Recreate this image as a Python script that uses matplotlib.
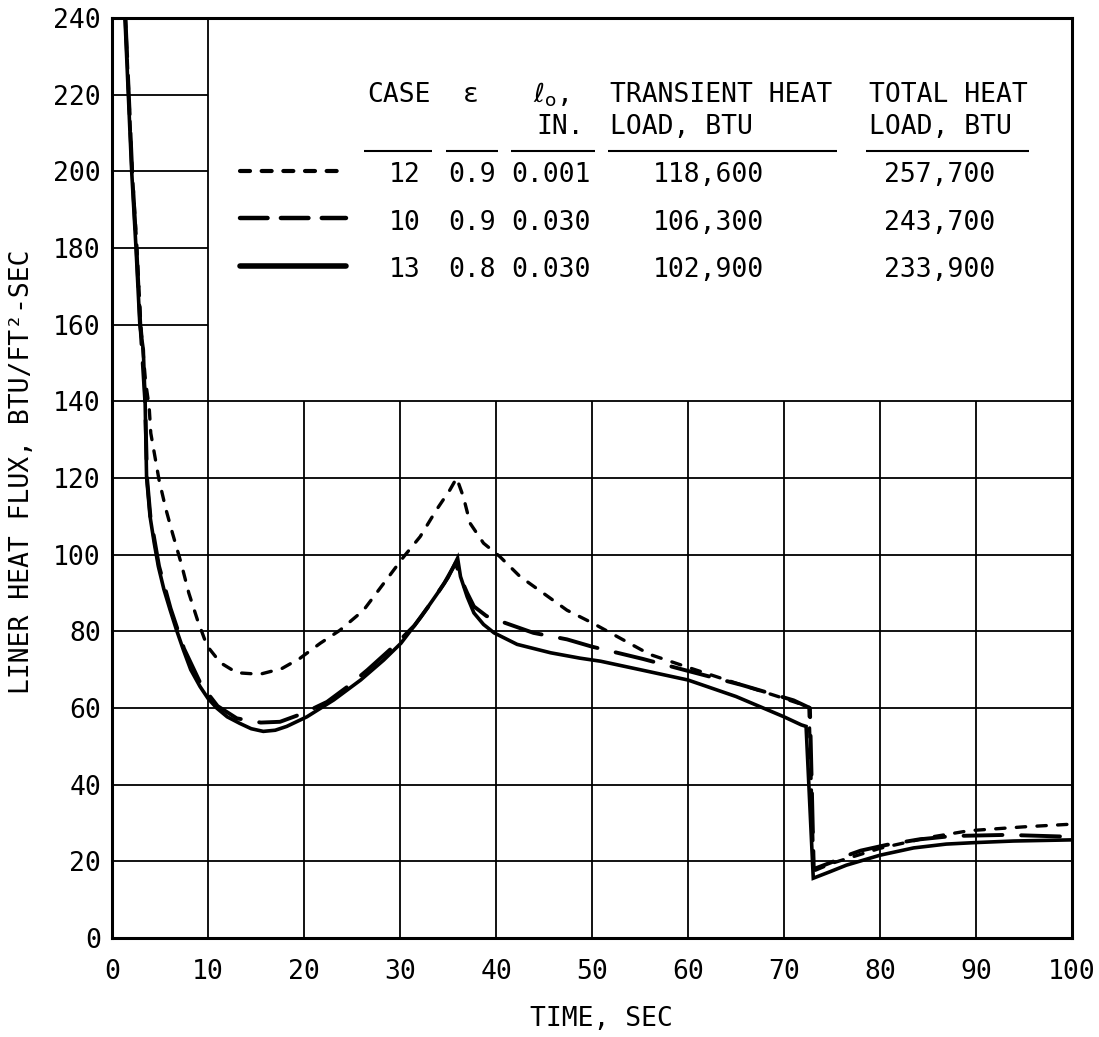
import matplotlib
matplotlib.use("Agg")
import matplotlib.pyplot as plt

# ---------------------------------------------------------------------------
# Liner heat flux histories for three cases
# ---------------------------------------------------------------------------
case12_t = [1.4, 2.1, 2.6, 3.0, 3.5, 3.87, 4.04, 4.9, 5.6, 6.3, 7.2, 8.0, 8.9,
            9.9, 11.3, 13.0, 15.4, 17.7, 19.6, 21.7, 23.75, 26.2, 28.3, 30.4,
            32.1, 33.8, 35.2, 35.9, 36.6, 37.3, 38.7, 40.4, 42.5, 44.9, 47.4,
            50.1, 53.6, 56.0, 60.0, 65.0, 70.0, 72.6, 73.1, 75.0, 80.0, 85.0,
            89.3, 95.0, 100.0]
case12_q = [240, 200, 180, 160, 145, 138.6, 131.7, 119.5, 112, 105.6, 97.8, 90,
            83, 76.2, 71.8, 69.2, 68.8, 70.3, 73.0, 76.9, 80.3, 85.5, 92.5, 99.5,
            104.7, 111.7, 116.9, 120, 115.1, 108.2, 103, 99.5, 94.3, 90, 85.5,
            82.1, 77.3, 74, 70.6, 66.5, 62.5, 60.3, 17.5, 19.5, 23.4, 26.2,
            28, 29, 29.7]

case10_t = [1.4, 2.1, 2.55, 2.95, 3.45, 3.65, 4.0, 4.9, 6.1, 7.5, 9.3, 11.0,
            13.0, 15.5, 17.5, 19.9, 22.4, 24.5, 26.6, 29.3, 31.5, 33.2, 34.6,
            35.8, 36.3, 37.0, 37.7, 39.0, 40.5, 43.9, 47.4, 50.0, 55.3, 59.5,
            65.6, 71.0, 72.7, 73.1, 75.0, 76.2, 78.0, 80.7, 84.0, 87.5, 93.2,
            100.0]
case10_q = [240, 200, 180, 160, 140, 120, 110, 97, 86, 75.5, 66, 60.5,
            57.3, 56.2, 56.4, 58.6, 61.6, 65.5, 69.9, 76.0, 81.5, 87.3, 92.5,
            97.8, 94, 90, 86.5, 84, 82.6, 79.6, 77.9, 76, 72.8, 70,
            66, 62, 60, 18, 19.8, 21.2, 22.8, 24.3, 25.7, 26.6, 26.9,
            26.4]

case13_t = [1.35, 2.05, 2.5, 2.9, 3.26, 3.45, 3.6, 3.96, 4.4, 4.83, 5.4, 6.04,
            6.7, 7.43, 8.2, 9.17, 10.0, 10.9, 12.0, 13.3, 14.5, 15.76, 17.0,
            18.2, 20.3, 23.1, 25.9, 28.3, 30.1, 32.2, 33.9, 35.0, 36.0, 36.3,
            37.0, 37.7, 38.7, 39.8, 42.2, 45.7, 48.75, 50.9, 55.0, 60.0, 65.0,
            70.0, 71.8, 72.3, 73.05, 74.8, 76.5, 80.0, 83.5, 86.9, 90.0, 93.9,
            100.0]
case13_q = [240, 200, 180, 160, 153.4, 140, 120.3, 110, 103, 96.9, 91, 85.7,
            80.5, 75.2, 70, 65.6, 62.5, 60, 57.7, 56.0, 54.6, 53.9, 54.2,
            55.2, 57.7, 62.1, 67.3, 72.5, 76.9, 83.8, 89.9, 94, 99.1, 94.3,
            89, 84.8, 81.8, 79.6, 76.6, 74.4, 73.0, 72.2, 70, 67.3, 63,
            57.7, 55.6, 55.2, 15.6, 17.3, 19.0, 21.6, 23.5, 24.5, 24.9, 25.3,
            25.6]

# Table of case parameters shown in the key
case_ids = ["12", "10", "13"]
emissivity = ["0.9", "0.9", "0.8"]
thickness_in = ["0.001", "0.030", "0.030"]
transient_load = ["118,600", "106,300", "102,900"]
total_load = ["257,700", "243,700", "233,900"]

x_ticks = list(range(0, 101, 10))
y_ticks = list(range(0, 241, 20))

MONO = ["DejaVu Sans Mono", "DejaVu Sans"]
FS = 19
plt.rcParams["font.family"] = MONO
plt.rcParams["mathtext.fontset"] = "dejavusans"

W, H = 1099, 1037
fig = plt.figure(figsize=(W / 100, H / 100), dpi=100)
ax = fig.add_axes([112 / W, 1 - 938 / H, 960 / W, 920 / H])
ax.set_xlim(0, 100)
ax.set_ylim(0, 240)

# Grid: the upper-right block is left open for the key table
GRID_LW = 1.3
for xv in x_ticks[1:-1]:
    top = 240 if xv == 10 else 140
    ax.plot([xv, xv], [0, top], color="black", lw=GRID_LW, zorder=1,
            solid_capstyle="butt")
for yv in y_ticks[1:-1]:
    right = 100 if yv <= 140 else 10
    ax.plot([0, right], [yv, yv], color="black", lw=GRID_LW, zorder=1,
            solid_capstyle="butt")

short_dash = dict(color="black", lw=2.4, dashes=(2.8, 3.4), dash_capstyle="round")
long_dash = dict(color="black", lw=2.8, dashes=(10.0, 4.8), dash_capstyle="round")
solid = dict(color="black", lw=2.6, solid_joinstyle="miter")

ax.plot(case12_t, case12_q, zorder=3, **short_dash)
ax.plot(case10_t, case10_q, zorder=3, **long_dash)
ax.plot(case13_t, case13_q, zorder=4, **solid)

for s in ax.spines.values():
    s.set_linewidth(2.2)
ax.set_xticks(x_ticks)
ax.set_yticks(y_ticks)
ax.tick_params(length=0, labelsize=FS)
ax.tick_params(axis="x", pad=15)
ax.tick_params(axis="y", pad=8)

fig.text(601 / W, 1 - 1019 / H, "TIME, SEC", ha="center", va="center",
         fontsize=FS)
fig.text(22 / W, 1 - 472 / H, "LINER HEAT FLUX, BTU/FT\u00b2-SEC",
         rotation=90, ha="center", va="center", fontsize=FS)

# Key table (positions in data units of the open block)
hdr1, hdr2, rule_y = 219.9, 211.6, 205.3
row_y = [199.1, 186.5, 174.3]
txt = dict(fontsize=FS, va="center", color="black")
ax.text(29.9, hdr1, "CASE", ha="center", **txt)
ax.text(37.4, hdr1, "\u03b5", ha="center", **txt)
ax.text(43.9, hdr1, r"$\ell_{\mathrm{o}}$,", ha="left", **txt)
ax.text(44.2, hdr2, "IN.", ha="left", **txt)
ax.text(51.9, hdr1, "TRANSIENT HEAT", ha="left", **txt)
ax.text(51.9, hdr2, "LOAD, BTU", ha="left", **txt)
ax.text(78.9, hdr1, "TOTAL HEAT", ha="left", **txt)
ax.text(78.9, hdr2, "LOAD, BTU", ha="left", **txt)

for x0, x1 in [(26.3, 33.3), (34.8, 40.2), (41.6, 50.3), (51.7, 75.5),
               (78.5, 95.5)]:
    ax.plot([x0, x1], [rule_y, rule_y], color="black", lw=1.5,
            solid_capstyle="butt")

for i, yr in enumerate(row_y):
    ax.text(30.5, yr, case_ids[i], ha="center", **txt)
    ax.text(37.5, yr, emissivity[i], ha="center", **txt)
    ax.text(45.7, yr, thickness_in[i], ha="center", **txt)
    ax.text(62.1, yr, transient_load[i], ha="center", **txt)
    ax.text(86.2, yr, total_load[i], ha="center", **txt)

# Line keys
key_styles = [
    dict(color="black", lw=3.0, dashes=(2.4, 2.8), dash_capstyle="round"),
    dict(color="black", lw=3.2, dashes=(6.2, 3.0), dash_capstyle="round"),
    dict(color="black", lw=4.0, solid_capstyle="round"),
]
key_y = [200.2, 187.8, 175.3]
for ky, st in zip(key_y, key_styles):
    ax.plot([13.3, 24.4], [ky, ky], **st)

fig.savefig("out.png", dpi=100)
